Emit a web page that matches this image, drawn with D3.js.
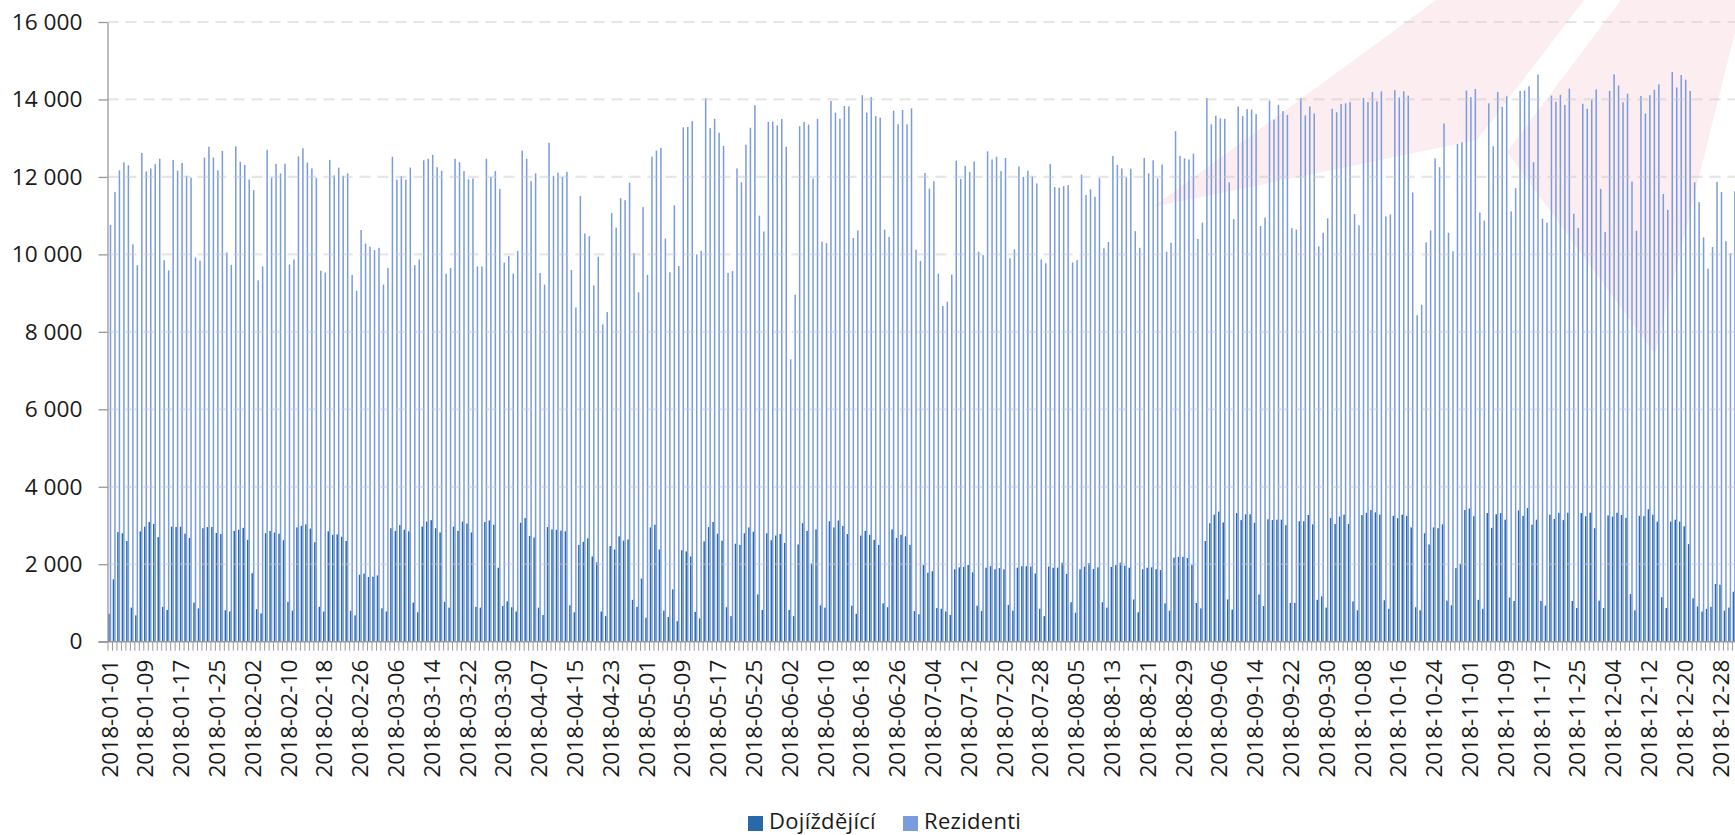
<!DOCTYPE html>
<html>
<head>
<script src="https://d3js.org/d3.v7.min.js" charset="utf-8"></script>
<meta charset="utf-8"/>
<style>
body { margin: 0; overflow: hidden; background: #fff; }
text { font-family: "Open Sans", sans-serif; fill: #1a1a1a; }
.domain, .tick line { stroke: #999; }
</style>
</head>
<body>
<svg id="svg" width="1735" height="835"></svg>
<script>
// one value per day, 7 per row (first row starts on Monday 1.1.)
var dojizdejici = [
 720,1610,2830,2800,2600,880,680,
 2850,2970,3090,3040,2700,900,820,
 2970,2960,2970,2790,2680,1010,860,
 2930,2960,2960,2810,2780,810,780,
 2860,2890,2940,2630,1770,840,730,
 2800,2860,2820,2790,2620,1030,800,
 2950,2990,3030,2920,2570,900,780,
 2850,2760,2770,2710,2600,800,680,
 1730,1760,1670,1680,1710,860,780,
 2930,2860,3010,2890,2850,1010,760,
 2970,3100,3140,2930,2820,1030,880,
 2970,2860,3100,3050,2820,900,880,
 3090,3130,3020,1910,920,1040,890,
 780,3070,3190,2730,2690,880,690,
 2960,2900,2890,2870,2850,940,760,
 2500,2580,2670,2200,2050,780,660,
 2470,2380,2720,2610,2640,1080,900,
 1630,620,2950,3020,2380,800,640,
 1350,530,2360,2330,2200,770,600,
 2590,2960,3090,2790,2610,890,660,
 2530,2500,2800,2950,2840,1220,820,
 2800,2620,2740,2780,2550,820,660,
 2510,3060,2860,2020,2900,940,880,
 3110,2950,3130,2990,2780,930,720,
 2740,2860,2760,2630,2500,990,890,
 2900,2680,2760,2720,2500,790,710,
 1980,1780,1820,870,850,780,690,
 1870,1920,1930,1980,1790,930,790,
 1910,1950,1870,1900,1870,950,800,
 1910,1950,1950,1940,1760,850,660,
 1940,1910,1910,2040,1750,1020,750,
 1870,1940,2030,1880,1920,1020,880,
 1930,1980,2040,1960,1910,1090,760,
 1870,1910,1920,1870,1850,990,800,
 2170,2190,2190,2160,1990,1000,860,
 2600,3060,3280,3360,3080,1090,830,
 3320,3140,3290,3290,3070,1220,920,
 3160,3140,3150,3150,3010,1000,1000,
 3110,3110,3270,3030,1080,1170,880,
 3190,3040,3230,3280,3040,1040,810,
 3270,3330,3400,3340,3280,1070,850,
 3250,3190,3280,3250,2950,890,810,
 2800,2510,2950,2930,3030,1060,940,
 1900,2010,3400,3440,3240,1080,850,
 3320,2940,3290,3320,3150,1140,1050,
 3390,3250,3450,3020,3150,1050,930,
 3280,3170,3330,3140,3330,1050,870,
 3320,3240,3330,2930,1060,870,3260,
 3230,3330,3270,3200,1230,810,3250,
 3240,3420,3280,3100,1150,870,3100,
 3150,3100,2980,2520,1120,910,780,
 850,900,1490,1470,800,880,1290
];
var rezidenti = [
 10760,11610,12170,12380,12300,10260,9720,
 12620,12140,12220,12330,12470,9850,9590,
 12440,12160,12360,12030,11980,9920,9840,
 12500,12780,12500,12170,12670,10050,9730,
 12790,12390,12310,11930,11660,9330,9690,
 12700,11980,12340,12090,12340,9740,9870,
 12530,12740,12370,12220,11970,9580,9530,
 12440,12040,12240,12030,12090,9470,9060,
 10630,10280,10200,10110,10170,9220,9650,
 12520,11930,12020,11930,12240,9720,9870,
 12430,12470,12570,12250,12160,9500,9650,
 12470,12380,12150,11940,11960,9690,9690,
 12470,12000,12150,11690,9790,9960,9500,
 10090,12680,12470,11890,12090,9520,9220,
 12880,12030,12110,12000,12130,9600,8630,
 11510,10540,10470,9200,9940,8190,8510,
 11070,10690,11450,11400,11850,10030,9020,
 11220,9470,12520,12680,12750,10410,9540,
 11270,9700,13280,13290,13440,10000,10090,
 14030,13260,13500,13140,12800,9520,9570,
 12220,11860,12830,13270,13850,11000,10590,
 13420,13430,13330,13500,12780,7290,8960,
 13310,13420,13350,11960,13500,10330,10290,
 13960,13660,13500,13830,13820,10420,10620,
 14110,13660,14060,13570,13530,10640,10450,
 13710,13360,13730,13360,13770,10120,9830,
 12100,11700,11890,9500,8670,8780,9480,
 12420,11950,12290,12130,12400,10070,9980,
 12660,12450,12520,12150,12490,9900,10130,
 12270,12000,12160,12010,11830,9870,9770,
 12330,11740,11720,11760,11790,9790,9850,
 12060,11530,11680,11490,11970,10160,10320,
 12540,12310,12220,11990,12210,10600,10170,
 12490,12090,12430,11960,12320,10070,10300,
 13180,12540,12480,12450,12600,10400,10820,
 14040,13360,13580,13510,13500,11860,10910,
 13820,13570,13750,13740,13620,10730,10950,
 13970,13480,13860,13700,13600,10680,10640,
 14040,13590,13820,13640,10210,10560,10930,
 13760,13670,13880,13900,13930,11040,10750,
 14040,13930,14190,13950,14210,10980,11030,
 14240,14050,14210,14100,11600,8430,8700,
 10310,10620,12480,12250,13380,10560,10080,
 12850,12890,14230,14060,14270,11080,10870,
 13900,12790,14190,13810,14080,11110,11710,
 14220,14230,14340,12380,14640,10920,10820,
 14100,13940,14120,13860,14280,11050,10680,
 13890,13760,13990,14260,11690,10580,14220,
 14650,14360,13930,14150,11880,10610,14090,
 13640,14110,14250,14390,11560,11150,14710,
 14310,14630,14510,14220,11860,11350,10440,
 9630,10190,11870,11610,10340,10030,11640
];
var rady = ["Dojíždějící", "Rezidenti"];
var barvy = ["#2769ab", "#7a9cdc"];
// every 8th day gets a label
var popisky = [
 "2018-01-01","2018-01-09","2018-01-17","2018-01-25","2018-02-02","2018-02-10","2018-02-18","2018-02-26",
 "2018-03-06","2018-03-14","2018-03-22","2018-03-30","2018-04-07","2018-04-15","2018-04-23","2018-05-01",
 "2018-05-09","2018-05-17","2018-05-25","2018-06-02","2018-06-10","2018-06-18","2018-06-26","2018-07-04",
 "2018-07-12","2018-07-20","2018-07-28","2018-08-05","2018-08-13","2018-08-21","2018-08-29","2018-09-06",
 "2018-09-14","2018-09-22","2018-09-30","2018-10-08","2018-10-16","2018-10-24","2018-11-01","2018-11-09",
 "2018-11-17","2018-11-25","2018-12-04","2018-12-12","2018-12-20","2018-12-28"
];
var yTicks = [0, 2000, 4000, 6000, 8000, 10000, 12000, 14000, 16000];
// pink logo behind the chart, in pixels
var logo = [
 [[1153,207],[1436,0],[1584,0],[1477,140]],
 [[1621,0],[1743,0],[1655,354],[1507,152]]
];

var left = 107.5, top_ = 22, bottom = 641.7, dayW = 4.475;
var n = rezidenti.length;
var svg = d3.select("#svg");

var x = d3.scaleBand().domain(d3.range(n)).range([left, left + n * dayW]);
var x1 = d3.scaleBand().domain(rady).range([0, x.bandwidth()]).paddingInner(0).paddingOuter(0.49);
var xEdge = d3.scaleLinear().domain([0, n]).range([left, left + n * dayW]);
var y = d3.scaleLinear().domain([0, 16000]).range([bottom, top_]);

svg.selectAll(".logo").data(logo).enter().append("polygon")
  .attr("class", "logo")
  .attr("points", function(d) { return d.join(" "); })
  .attr("fill", "#fcedf0");

var data = [dojizdejici, rezidenti];
rady.forEach(function(r, k) {
  svg.append("g").selectAll("rect").data(data[k]).enter().append("rect")
    .attr("x", function(d, i) { return x(i) + x1(r); })
    .attr("width", x1.bandwidth())
    .attr("y", function(d) { return y(d); })
    .attr("height", function(d) { return bottom - y(d); })
    .attr("fill", barvy[k]);
});

// dashed grid runs over the bars
svg.append("g").selectAll("line").data(yTicks.slice(1)).enter().append("line")
  .attr("x1", left).attr("x2", 1735)
  .attr("y1", function(d) { return y(d); })
  .attr("y2", function(d) { return y(d); })
  .attr("stroke", "#c8c8c8").attr("stroke-opacity", 0.45)
  .attr("stroke-width", 2.2).attr("stroke-dasharray", "11 7");

var locale = d3.formatLocale({ decimal: ",", thousands: " ", grouping: [3], currency: ["", ""] });
var yAxis = d3.axisLeft(y).tickValues(yTicks).tickSize(9).tickSizeOuter(0).tickPadding(16).tickFormat(locale.format(",d"));
var yG = svg.append("g").attr("transform", "translate(" + left + ",0)").call(yAxis);
yG.selectAll("text").style("font-size", "22.7px");
yG.selectAll(".domain, line").style("stroke-width", 1.3);

// small ticks sit on the day borders
var xTickAxis = d3.axisBottom(xEdge).tickValues(d3.range(n + 1)).tickSize(9).tickSizeOuter(0).tickFormat("");
var xG = svg.append("g").attr("transform", "translate(0," + bottom + ")").call(xTickAxis);
xG.select(".domain").remove();
xG.selectAll("line").style("stroke-width", 1);
svg.append("line").attr("x1", left - 9).attr("x2", 1735).attr("y1", bottom).attr("y2", bottom)
  .attr("stroke", "#999").attr("stroke-width", 1.5);

// labels on the day centres
var xLabelAxis = d3.axisBottom(x).tickValues(d3.range(0, n, 8)).tickSize(0)
  .tickFormat(function(i) { return popisky[i / 8]; });
var xL = svg.append("g").attr("transform", "translate(0," + bottom + ")").call(xLabelAxis);
xL.select(".domain").remove();
xL.selectAll("text")
  .style("font-size", "22.6px")
  .style("text-anchor", "end")
  .attr("x", -18).attr("y", 0).attr("dy", "0.35em")
  .attr("transform", "rotate(-90)");

// legend
var legendX = [748, 903];
rady.forEach(function(r, k) {
  svg.append("rect").attr("x", legendX[k]).attr("y", 816).attr("width", 15).attr("height", 15).attr("fill", barvy[k]);
  svg.append("text").attr("x", legendX[k] + 21).attr("y", 828.5)
    .style("font-size", "22px").style("letter-spacing", "0.3px").text(r);
});
</script>
</body>
</html>
